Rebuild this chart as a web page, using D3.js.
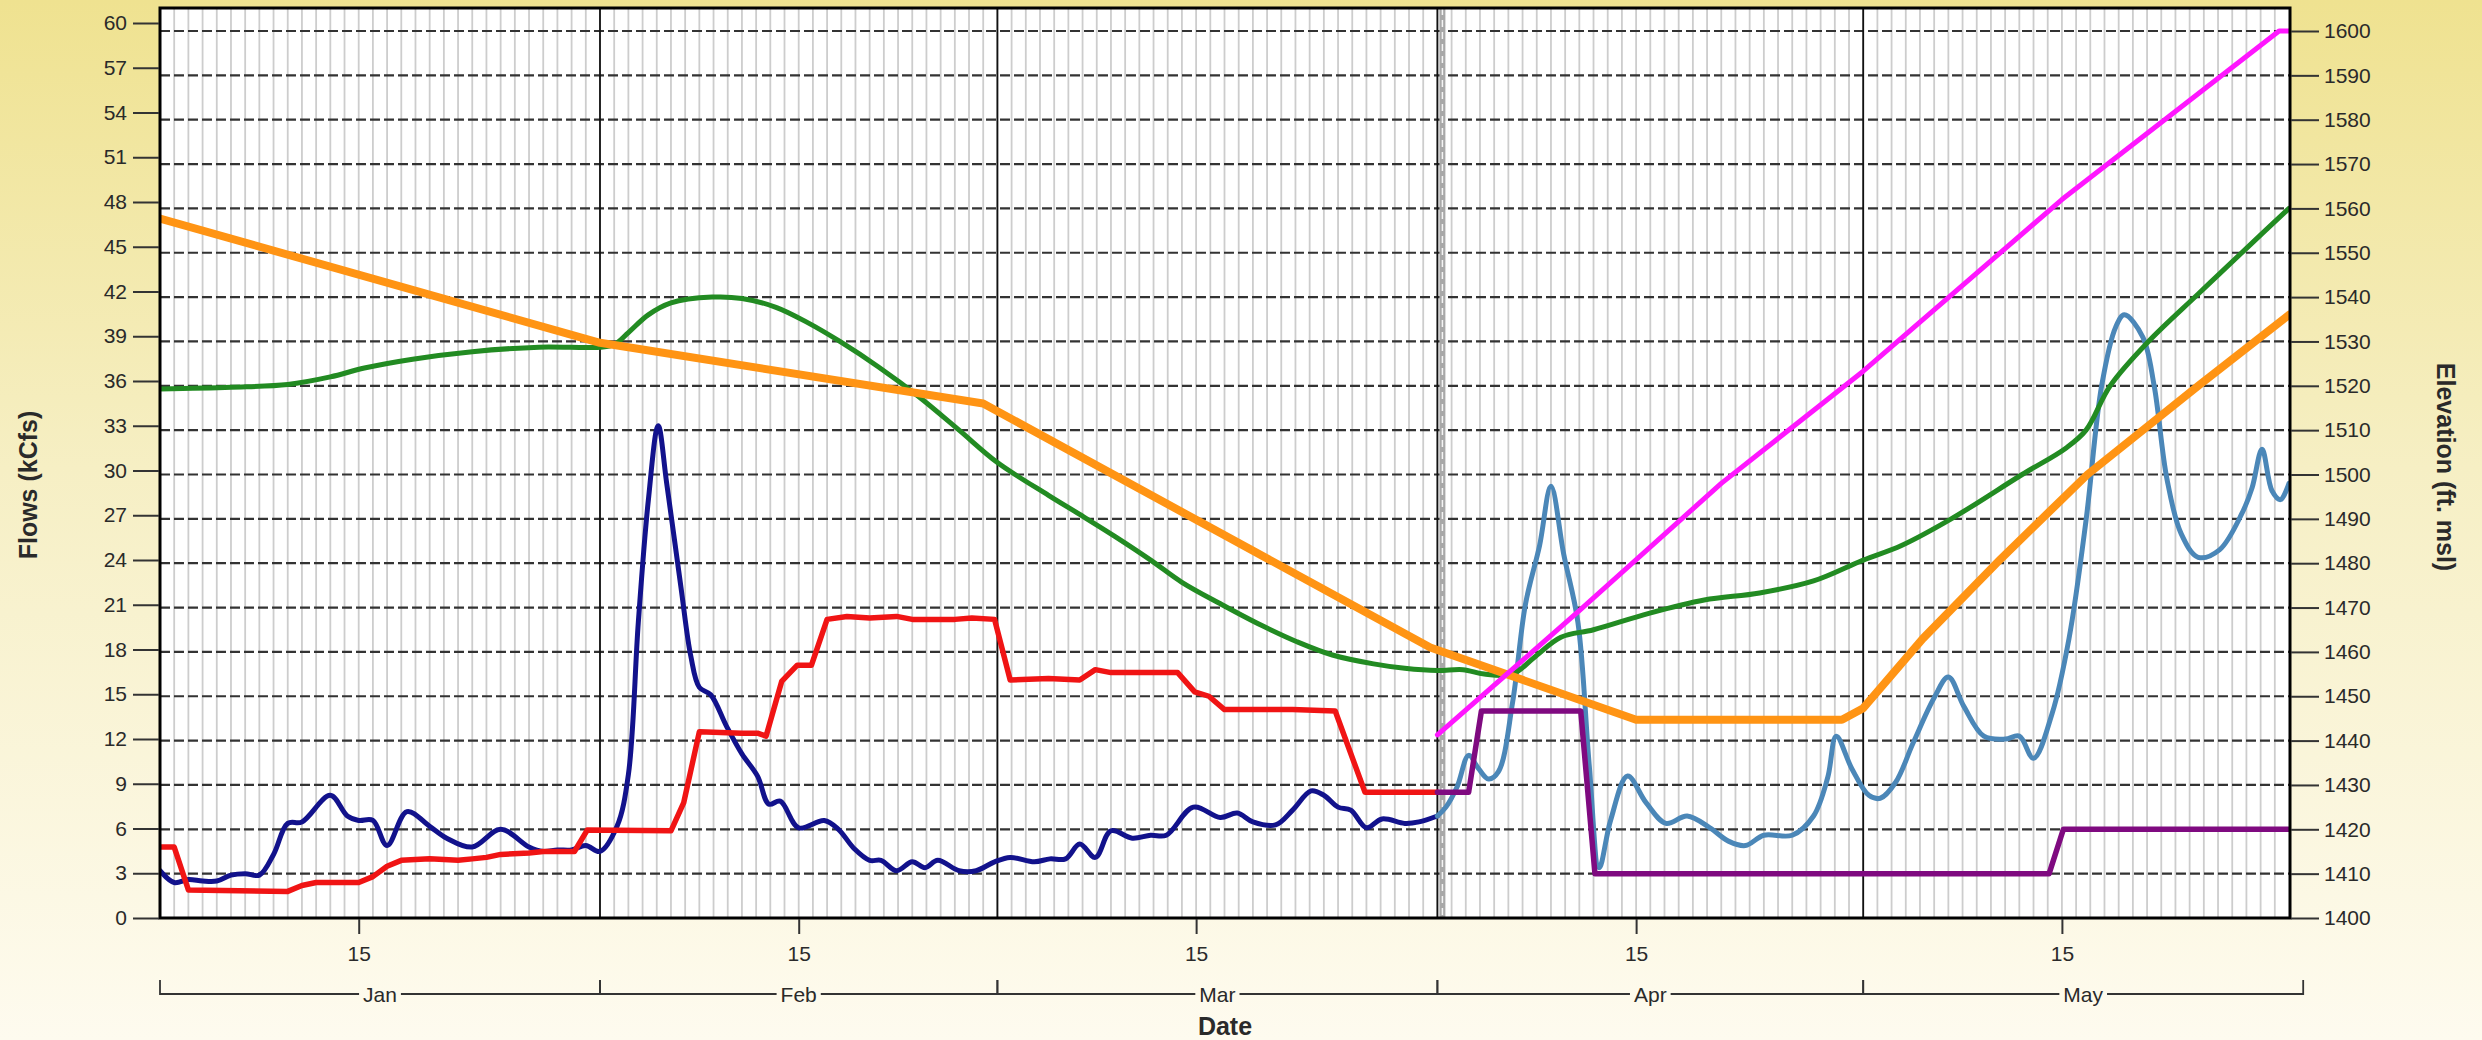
<!DOCTYPE html>
<html>
<head>
<meta charset="UTF-8" />
<title>Flows and Elevation</title>
<script src="https://d3js.org/d3.v7.min.js"></script>
<style>
  body { margin: 0; background: #f7f0c8; }
  svg text { font-family: "Liberation Sans", Arial, sans-serif; fill: #2a2a2a; }
  .axis-title { font-weight: bold; font-size: 25px; }
  .tick text { font-size: 21px; }
</style>
</head>
<body>
<svg id="chart" width="2482" height="1040"></svg>
<script>
// x values are days counted from Jan 1, flows in kCfs, elevations in ft msl
var year = 2023;
var monthNames = ['Jan', 'Feb', 'Mar', 'Apr', 'May'];
var flowTicks = [0, 3, 6, 9, 12, 15, 18, 21, 24, 27, 30, 33, 36, 39, 42, 45, 48, 51, 54, 57, 60];
var elevTicks = [1400, 1410, 1420, 1430, 1440, 1450, 1460, 1470, 1480, 1490, 1500,
                 1510, 1520, 1530, 1540, 1550, 1560, 1570, 1580, 1590, 1600];
var dayLabels = ['15', '15', '15', '15', '15'];

var inflowObserved = [[0,3.2],[1,2.4],[2,2.6],[3,2.5],[4,2.5],[5,2.9],[6,3.0],[7,2.9],[8,4.3],
  [9,6.4],[10,6.5],[12,8.3],[13.2,6.9],[14,6.6],[15,6.6],[16,4.9],[17.4,7.2],[19,6.2],[20.2,5.4],
  [22,4.8],[24,6.0],[26,4.8],[27,4.5],[28,4.6],[29,4.6],[30,4.9],[31,4.5],[32.2,6.2],[33,9.7],
  [33.7,20],[34.4,28.2],[35.1,33.3],[35.7,29.4],[36.7,22.4],[37.4,17.7],[38,15.6],[38.8,15.1],
  [39.9,13],[41,11.1],[42.1,9.6],[42.9,7.7],[43.7,7.9],[45,6.1],[46.8,6.6],[47.8,6.0],[48.9,4.7],
  [50,3.9],[50.8,3.9],[51.9,3.2],[53,3.8],[53.9,3.4],[54.8,3.9],[56.3,3.2],[57.5,3.2],[58.8,3.8],
  [59.9,4.1],[61.6,3.8],[62.7,4.0],[63.8,4.0],[64.8,5.0],[65.9,4.1],[67,5.9],[68.5,5.4],[69.8,5.6],
  [70.9,5.6],[72.8,7.5],[74.7,6.8],[75.9,7.1],[77,6.5],[78.6,6.3],[79.8,7.3],[81.1,8.6],[82,8.3],
  [83,7.5],[83.9,7.3],[85,6.1],[86.1,6.7],[87.7,6.4],[88.7,6.5],[90,6.9]];

var outflowObserved = [[0,4.8],[1,4.8],[2,1.9],[9,1.8],[10,2.2],[11,2.4],[14,2.4],[15,2.8],[16,3.5],
  [17,3.9],[19,4.0],[21,3.9],[22,4.0],[23,4.1],[24,4.3],[26,4.4],[27,4.5],[29.2,4.5],[30.1,5.95],
  [36,5.9],[36.9,7.8],[38,12.6],[41,12.5],[42.1,12.5],[42.7,12.3],[43.8,16.0],[44.9,17.1],
  [45.9,17.1],[47,20.2],[48.4,20.4],[50,20.3],[51.9,20.4],[53,20.2],[56,20.2],[57.2,20.3],
  [58.8,20.2],[59.9,16.1],[62.6,16.2],[64.8,16.1],[65.9,16.8],[67,16.6],[71.7,16.6],[72.9,15.3],
  [73.9,15.0],[75,14.1],[79.8,14.1],[82.8,14.0],[84.9,8.5],[90,8.5]];

var inflowForecast = [[90,6.9],[90.6,7.5],[91.4,8.9],[92.2,11.0],[92.9,10.1],[93.6,9.4],[94.3,9.9],
  [95.3,14.6],[96.2,21.2],[97.2,25.2],[98,29.2],[98.9,24.6],[99.9,20.0],[100.7,10.3],[101.4,3.4],
  [102.2,6.6],[103.4,9.6],[104.7,7.8],[106.1,6.4],[107.6,6.9],[109.2,6.1],[110.5,5.2],[111.7,4.9],
  [113,5.6],[115,5.6],[116.5,6.9],[117.5,9.5],[118.1,12.3],[119.2,10.1],[120.4,8.3],[121.2,8.1],
  [122.3,9.2],[123.5,11.8],[125,14.9],[126,16.3],[127.1,14.3],[128.5,12.3],[130,12.1],[131,12.3],
  [132,10.8],[133.3,13.8],[134.5,18.9],[135.7,26.9],[136.8,36.0],[137.8,40.0],[138.4,40.8],
  [139.7,39.3],[140.5,36],[141.4,29.7],[142.4,26.0],[143.6,24.4],[145.1,24.9],[146.7,27.4],
  [147.4,29.1],[148.1,31.7],[148.8,28.9],[149.4,28.3],[150,29.4]];

var outflowForecast = [[90,8.5],[92.2,8.5],[93.1,14.0],[100.1,14.0],[101.1,3.0],[133.1,3.0],
  [134.1,6.0],[150,6.0]];

var poolElevation = [[0,1519.3],[5,1519.7],[9,1520.3],[12,1522.0],[14.4,1524.0],[17.8,1526.0],
  [22,1527.7],[26.7,1528.7],[31,1528.7],[32,1529.3],[33,1532.0],[34.4,1536.0],[36,1538.7],
  [38.9,1540.0],[41,1539.7],[43.4,1537.7],[45.6,1534.3],[47.9,1530.0],[50.6,1524.3],[53.4,1517.7],
  [56.3,1510.0],[59,1502.7],[62.6,1495.3],[64.8,1491.0],[67.3,1486.0],[69.8,1480.7],[72,1475.7],
  [74.8,1470.7],[77.6,1466.0],[80.1,1462.3],[82.6,1459.3],[85.5,1457.3],[87.7,1456.3],[90,1455.8],
  [91.8,1456.0],[93.3,1455.0],[95.3,1455.0],[96.8,1458.7],[98.7,1463.3],[101,1465.0],
  [104.9,1468.7],[108.8,1471.7],[112.7,1473.3],[116.5,1476.0],[120,1480.7],[122.7,1484.0],
  [126.2,1490.0],[131.2,1500.0],[134.3,1506.0],[135.7,1510.0],[137.4,1520.0],[140.1,1530.0],
  [143.6,1540.7],[147,1551.0],[150,1560.0]];

var ruleCurve = [[0,1557.7],[31,1529.7],[58,1516.0],[89.5,1461.0],[104,1444.7],[118.5,1444.7],
  [120,1447.3],[124.2,1463.0],[129.7,1481.0],[135.8,1500.0],[143.6,1520.0],[150,1536.0]];

var upperCurve = [[90,1441.3],[100,1469.3],[110,1498.0],[120,1523.3],[134,1562.0],[149.3,1600],
  [150,1600]];

var W = 2482, H = 1040;
var plot = { left: 160, right: 2290, top: 8, bottom: 918 };
var start = Date.UTC(year, 0, 1);
function dayDate(d) { return new Date(start + d * 86400000); }

var x = d3.scaleUtc().domain([dayDate(0), dayDate(150)]).range([plot.left, 2289]);
var yFlow = d3.scaleLinear().domain([0, 60]).range([plot.bottom, 31]);
var yFlowLabels = d3.scaleLinear().domain([0, 60]).range([plot.bottom, 23]);
var yElev = d3.scaleLinear().domain([1400, 1600]).range([plot.bottom, 31]);

var svg = d3.select('#chart');
var defs = svg.append('defs');
var grad = defs.append('linearGradient').attr('id', 'bg').attr('x1', 0).attr('y1', 0).attr('x2', 0).attr('y2', 1);
grad.append('stop').attr('offset', '0%').attr('stop-color', '#efe290');
grad.append('stop').attr('offset', '45%').attr('stop-color', '#f6efc4');
grad.append('stop').attr('offset', '100%').attr('stop-color', '#fefbef');
defs.append('clipPath').attr('id', 'clip').append('rect')
  .attr('x', plot.left).attr('y', plot.top)
  .attr('width', plot.right - plot.left).attr('height', plot.bottom - plot.top);

svg.append('rect').attr('width', W).attr('height', H).attr('fill', 'url(#bg)');
svg.append('rect').attr('x', plot.left).attr('y', plot.top)
  .attr('width', plot.right - plot.left).attr('height', plot.bottom - plot.top)
  .attr('fill', '#fff');

// daily grid
var days = d3.utcDay.range(dayDate(1), dayDate(150));
svg.append('g').selectAll('line').data(days).enter().append('line')
  .attr('x1', d => x(d)).attr('x2', d => x(d))
  .attr('y1', plot.top).attr('y2', plot.bottom)
  .attr('stroke', '#cdcdcd').attr('stroke-width', 1.8);

// horizontal grid
svg.append('g').selectAll('line').data(flowTicks.slice(1)).enter().append('line')
  .attr('x1', plot.left).attr('x2', plot.right)
  .attr('y1', d => yFlow(d)).attr('y2', d => yFlow(d))
  .attr('stroke', '#333').attr('stroke-width', 2.2).attr('stroke-dasharray', '10,4');

// month boundaries
var months = d3.utcMonth.range(dayDate(1), dayDate(150));
svg.append('g').selectAll('line').data(months).enter().append('line')
  .attr('x1', d => x(d)).attr('x2', d => x(d))
  .attr('y1', plot.top).attr('y2', plot.bottom)
  .attr('stroke', '#111').attr('stroke-width', 1.8);

// current day marker
var now = dayDate(90);
svg.append('line').attr('x1', x(now) + 5).attr('x2', x(now) + 5)
  .attr('y1', plot.top).attr('y2', plot.bottom)
  .attr('stroke', '#a8a8a8').attr('stroke-width', 6);
svg.append('line').attr('x1', x(now) + 5).attr('x2', x(now) + 5)
  .attr('y1', plot.top).attr('y2', plot.bottom)
  .attr('stroke', '#f4f4f4').attr('stroke-width', 1.5).attr('stroke-dasharray', '7,5');

// series
var lines = svg.append('g').attr('clip-path', 'url(#clip)');
function flowLine(curve) {
  return d3.line().x(d => x(dayDate(d[0]))).y(d => yFlow(d[1])).curve(curve);
}
function elevLine(curve) {
  return d3.line().x(d => x(dayDate(d[0]))).y(d => yElev(d[1])).curve(curve);
}
function draw(data, gen, color, width) {
  lines.append('path').datum(data).attr('d', gen)
    .attr('fill', 'none').attr('stroke', color).attr('stroke-width', width)
    .attr('stroke-linejoin', 'round').attr('stroke-linecap', 'round');
}
draw(inflowObserved, flowLine(d3.curveCatmullRom.alpha(0.5)), '#12128c', 5);
draw(outflowObserved, flowLine(d3.curveLinear), '#f01414', 5.5);
draw(inflowForecast, flowLine(d3.curveCatmullRom.alpha(0.5)), '#4b87b8', 5);
draw(outflowForecast, flowLine(d3.curveLinear), '#7f0a80', 5.5);
draw(poolElevation, elevLine(d3.curveCatmullRom.alpha(0.5)), '#228b22', 5);
draw(ruleCurve, elevLine(d3.curveLinear), '#ff9414', 8);
draw(upperCurve, elevLine(d3.curveLinear), '#ff16ff', 5);

// plot frame
svg.append('rect').attr('x', plot.left).attr('y', plot.top)
  .attr('width', plot.right - plot.left).attr('height', plot.bottom - plot.top)
  .attr('fill', 'none').attr('stroke', '#000').attr('stroke-width', 3);

// axes
function styleAxis(g) {
  g.select('.domain').remove();
  g.selectAll('.tick line').attr('stroke', '#333').attr('stroke-width', 2);
}
svg.append('g').attr('transform', 'translate(' + (plot.left - 1) + ',0)')
  .call(d3.axisLeft(yFlowLabels).tickValues(flowTicks).tickSize(26).tickPadding(6))
  .call(styleAxis);
svg.append('g').attr('transform', 'translate(' + (plot.right + 1) + ',0)')
  .call(d3.axisRight(yElev).tickValues(elevTicks).tickFormat(d3.format('d'))
    .tickSize(28).tickPadding(5))
  .call(styleAxis);

var midMonths = monthNames.map((m, i) => new Date(Date.UTC(year, i, 15)));
svg.append('g').attr('transform', 'translate(0,' + (plot.bottom + 1) + ')')
  .call(d3.axisBottom(x).tickValues(midMonths).tickFormat((d, i) => dayLabels[i])
    .tickSize(15).tickPadding(12))
  .call(styleAxis);

// month brackets
var bracketY = 994;
var bounds = d3.utcMonth.range(dayDate(0), new Date(Date.UTC(year, 5, 2)));
var br = svg.append('g');
monthNames.forEach(function (m, i) {
  var x0 = x(bounds[i]), x1 = x(bounds[i + 1]);
  var mid = (x0 + x1) / 2;
  var label = br.append('text').attr('x', mid).attr('y', bracketY + 8)
    .attr('text-anchor', 'middle').style('font-size', '21px').text(m);
  var half = label.node().getComputedTextLength() / 2 + 4;
  br.append('path')
    .attr('d', 'M' + x0 + ',' + (bracketY - 14) + 'V' + bracketY + 'H' + (mid - half) +
      'M' + (mid + half) + ',' + bracketY + 'H' + x1 + 'V' + (bracketY - 14))
    .attr('fill', 'none').attr('stroke', '#333').attr('stroke-width', 1.8);
});

svg.append('text').attr('class', 'axis-title').attr('x', (plot.left + plot.right) / 2)
  .attr('y', 1035).attr('text-anchor', 'middle').text('Date');
svg.append('text').attr('class', 'axis-title')
  .attr('transform', 'translate(37,485) rotate(-90)')
  .attr('text-anchor', 'middle').text('Flows (kCfs)');
svg.append('text').attr('class', 'axis-title')
  .attr('transform', 'translate(2437,467) rotate(90)')
  .attr('text-anchor', 'middle').text('Elevation (ft. msl)');
</script>
</body>
</html>
